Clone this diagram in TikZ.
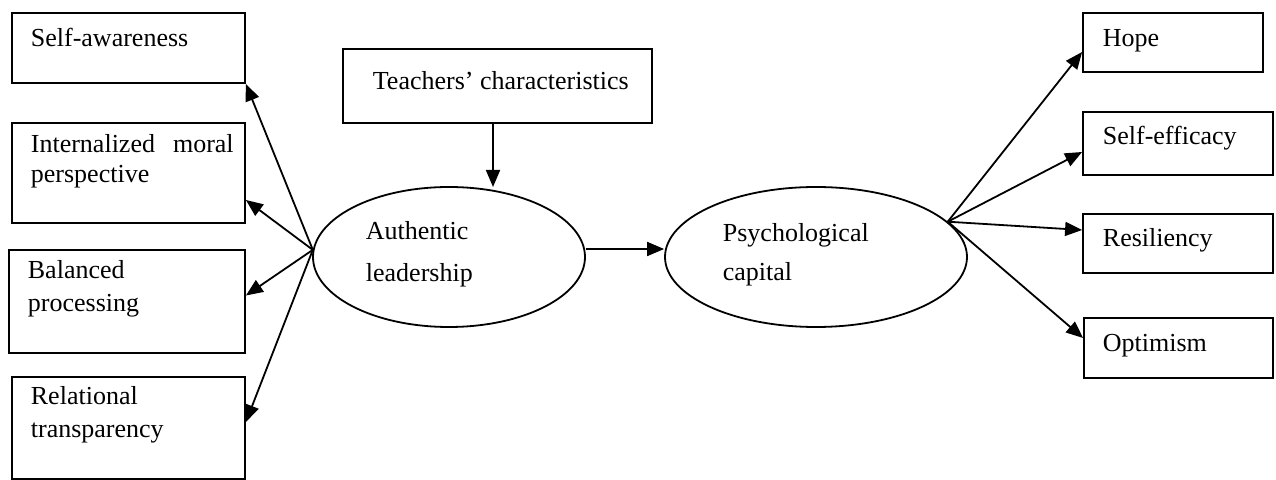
\documentclass[tikz,border=0pt]{standalone}
\usepackage{fontspec}
\setmainfont{Liberation Serif}
\usepackage{tikz}
\usetikzlibrary{arrows.meta,shapes}

\begin{document}
\begin{tikzpicture}[x=0.5pt,y=-0.5pt,line width=0.9pt,
	>={Triangle[length=8.5pt,width=7pt]},
	box/.style={draw,rectangle,inner sep=0pt},
	oval/.style={draw,ellipse,inner sep=0pt,minimum height=70pt},
	lbl/.style={anchor=base west,inner sep=0pt,font=\fontsize{13}{15}\selectfont}]
	\useasboundingbox (0,0) rectangle (1276,480);

	% left side: components of authentic leadership
	\node[box,minimum width=116.5pt,minimum height=35pt] (SA) at (128.5,48) {};
	\node[box,minimum width=116.5pt,minimum height=50pt] (IMP) at (128.5,173) {};
	\node[box,minimum width=118pt,minimum height=51.5pt] (BP) at (127,301.5) {};
	\node[box,minimum width=116.5pt,minimum height=51pt] (RT) at (128.5,428) {};
	\node[lbl] (SAa) at (30,47) {Self-awareness};
	\node[lbl] (IMPa) at (30,153) {Internalized\hspace{9pt}moral};
	\node[lbl] (IMPb) at (30,183) {perspective};
	\node[lbl] (BPa) at (27,279) {Balanced};
	\node[lbl] (BPb) at (27,312) {processing};
	\node[lbl] (RTa) at (30,405) {Relational};
	\node[lbl] (RTb) at (30,438) {transparency};

	% middle
	\node[box,minimum width=154.5pt,minimum height=37pt] (TC) at (497.5,86) {};
	\node[lbl] (TCa) at (372,90) {Teachers’ characteristics};
	\node[oval,minimum width=136pt] (AL) at (449,257) {};
	\node[lbl] (ALa) at (365,240) {Authentic};
	\node[lbl] (ALb) at (365,282) {leadership};
	\node[oval,minimum width=151pt] (PC) at (816,257) {};
	\node[lbl] (PCa) at (722,242) {Psychological};
	\node[lbl] (PCb) at (722,281) {capital};
	\coordinate (TCo) at (493,123);
	\coordinate (ALi) at (493,187);

	% right side: components of psychological capital
	\node[box,minimum width=90pt,minimum height=29.5pt] (HOPE) at (1173,42.5) {};
	\node[box,minimum width=95pt,minimum height=31.5pt] (SE) at (1178,143.5) {};
	\node[box,minimum width=95pt,minimum height=29.5pt] (RES) at (1178,243.5) {};
	\node[box,minimum width=94.5pt,minimum height=30pt] (OPT) at (1178.5,348) {};
	\node[lbl] (HOPEa) at (1102,47) {Hope};
	\node[lbl] (SEa) at (1102,145) {Self-efficacy};
	\node[lbl] (RESa) at (1102,247) {Resiliency};
	\node[lbl] (OPTa) at (1102,352) {Optimism};

	\path[->]
	(AL.177) edge (SA.south east)
	(AL.177) edge ([yshift=-13.5pt]IMP.east)
	(AL.177) edge ([yshift=3pt]BP.east)
	(AL.177) edge ([yshift=3pt]RT.east)
	(TCo) edge (ALi)
	([yshift=4pt]AL.east) edge ([yshift=4pt]PC.west)
	(PC.15) edge ([yshift=-4.75pt]HOPE.west)
	(PC.15) edge ([yshift=-4.25pt]SE.west)
	(PC.15) edge ([yshift=6.75pt]RES.west)
	(PC.15) edge ([yshift=5pt]OPT.west)
	;
\end{tikzpicture}
\end{document}
